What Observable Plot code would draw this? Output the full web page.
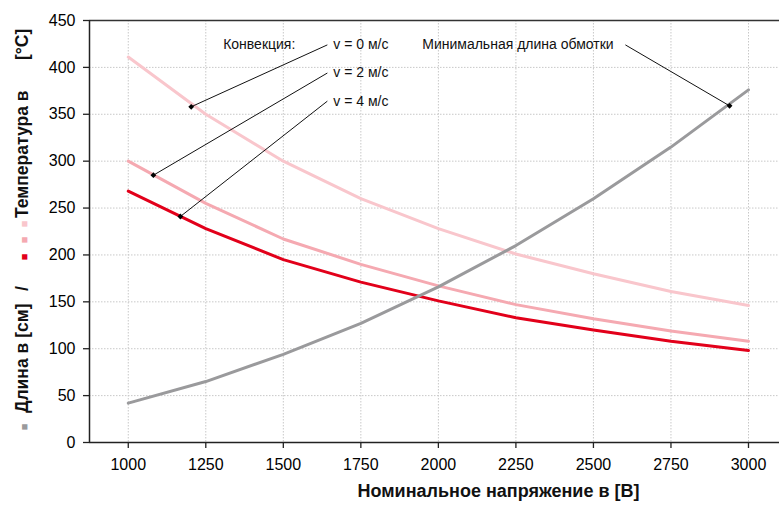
<!DOCTYPE html>
<html>
<head>
<meta charset="utf-8">
<script src="https://cdn.jsdelivr.net/npm/d3@7"></script>
<script src="https://cdn.jsdelivr.net/npm/@observablehq/plot@0.6"></script>
<style>
  html, body { margin: 0; padding: 0; background: #fff; }
  #chart { width: 779px; height: 506px; }
  svg { font-family: "Liberation Sans", Arial, sans-serif; }
</style>
</head>
<body>
<div id="chart"></div>
<script>
// ---- data ----
const voltage = [1000, 1250, 1500, 1750, 2000, 2250, 2500, 2750, 3000];
const lengthCm = [42, 65, 94, 127, 166, 210, 260, 315, 376];
const tempV0 = [411, 350, 300, 260, 228, 201, 180, 161, 146];
const tempV2 = [300, 255, 217, 190, 167, 147, 132, 119, 108];
const tempV4 = [268, 228, 195, 171, 151, 133, 120, 108, 98];

const xTicks = [1000, 1250, 1500, 1750, 2000, 2250, 2500, 2750, 3000];
const yTicks = [0, 50, 100, 150, 200, 250, 300, 350, 400, 450];

const xLabel = "Номинальное напряжение в [B]";
const convLabel = "Конвекция:";
const speedLabels = ["v = 0 м/с", "v = 2 м/с", "v = 4 м/с"];
const minLabel = "Минимальная длина обмотки";
const yTitleParts = ["Длина в [см]", "/", "Температура в", "[°C]"];

// annotation pointer targets (data units) and label anchor rows (data units)
const pointerX = [1203, 1081, 1168, 2939];
const pointerY = [358, 285, 241, 359];
const labelRowY = [424, 394, 364, 424];
const lineStartX = [1642, 1642, 1642, 2603];
const speedTextX = 1661;
const convTextX = 1306;
const minTextX = 1948;

const colors = {len: "#9a9a9c", v0: "#f9c6cc", v2: "#f5a9b1", v4: "#e2001a"};

const series = [
  {key: "v0", vals: tempV0},
  {key: "v2", vals: tempV2},
  {key: "v4", vals: tempV4},
  {key: "len", vals: lengthCm}
];
const rows = series.flatMap(s => s.vals.map((v, i) => ({key: s.key, x: voltage[i], y: v})));

const annLines = pointerX.map((px, i) => ({x1: lineStartX[i], y1: labelRowY[i], x2: px, y2: pointerY[i]}));
const annDots = pointerX.map((px, i) => ({x: px, y: pointerY[i]}));
const speedTexts = speedLabels.map((t, i) => ({x: speedTextX, y: labelRowY[i], t}));

const plot = Plot.plot({
  width: 779,
  height: 506,
  marginLeft: 89,
  marginRight: 0,
  marginTop: 20,
  marginBottom: 64,
  style: {fontFamily: "Liberation Sans, Arial, sans-serif", background: "#fff", overflow: "visible"},
  x: {domain: [875, 3100]},
  y: {domain: [0, 450]},
  marks: [
    Plot.gridX(xTicks, {stroke: "#c8c8c8", strokeOpacity: 1, strokeDasharray: "1.5,1.5"}),
    Plot.gridY(yTicks, {stroke: "#c8c8c8", strokeOpacity: 1, strokeDasharray: "1.5,1.5"}),
    Plot.axisX(xTicks, {tickSize: 6, tickPadding: 10, fontSize: 16, label: null, tickFormat: d => String(d), stroke: "#222", strokeWidth: 1.3}),
    Plot.axisY(yTicks, {tickSize: 6, tickPadding: 8, fontSize: 16, label: null, stroke: "#222", strokeWidth: 1.3}),
    Plot.ruleY([0], {stroke: "#222", strokeWidth: 1.5}),
    Plot.ruleY([450], {stroke: "#333", strokeWidth: 1.5}),
    Plot.ruleX([875], {stroke: "#222", strokeWidth: 1.5}),
    Plot.line(rows, {x: "x", y: "y", z: "key", stroke: d => colors[d.key], strokeWidth: 3, curve: "linear"}),
    Plot.link(annLines, {x1: "x1", y1: "y1", x2: "x2", y2: "y2", stroke: "#111", strokeWidth: 1}),
    Plot.dot(annDots, {x: "x", y: "y", symbol: "diamond2", r: 2.6, fill: "#000"}),
    Plot.text(speedTexts, {x: "x", y: "y", text: "t", textAnchor: "start", fontSize: 14, fill: "#111"}),
    Plot.text([convLabel], {x: convTextX, y: labelRowY[0], text: d => d, textAnchor: "start", fontSize: 14, fill: "#111"}),
    Plot.text([minLabel], {x: minTextX, y: labelRowY[3], text: d => d, textAnchor: "start", fontSize: 14, fill: "#111"}),
    Plot.text([xLabel], {frameAnchor: "bottom", dx: 64, dy: 54, text: d => d, fontSize: 18, fontWeight: "bold", fill: "#111"})
  ]
});

// composite y-axis title with colored legend squares
const svg = d3.select(plot);
const yt = svg.append("g").attr("font-family", "Liberation Sans, Arial, sans-serif")
  .attr("font-weight", "bold").attr("fill", "#111");
const pieces = [
  {t: "■", y: 427, c: colors.len, s: 11},
  {t: yTitleParts[0], y: 413, c: "#111", s: 17.5},
  {t: yTitleParts[1], y: 291, c: "#111", s: 17.5},
  {t: "■", y: 257, c: colors.v4, s: 11},
  {t: "■", y: 240, c: colors.v2, s: 11},
  {t: "■", y: 224, c: colors.v0, s: 11},
  {t: yTitleParts[2], y: 218, c: "#111", s: 17.5},
  {t: yTitleParts[3], y: 60, c: "#111", s: 17.5}
];
pieces.forEach(p => {
  const isSq = p.t === "■";
  yt.append("text")
    .attr("transform", `translate(28,${p.y}) rotate(-90)`)
    .attr("text-anchor", isSq ? "middle" : "start")
    .attr("font-size", p.s)
    .attr("fill", p.c)
    .text(p.t);
});

document.getElementById("chart").appendChild(plot);
</script>
</body>
</html>
